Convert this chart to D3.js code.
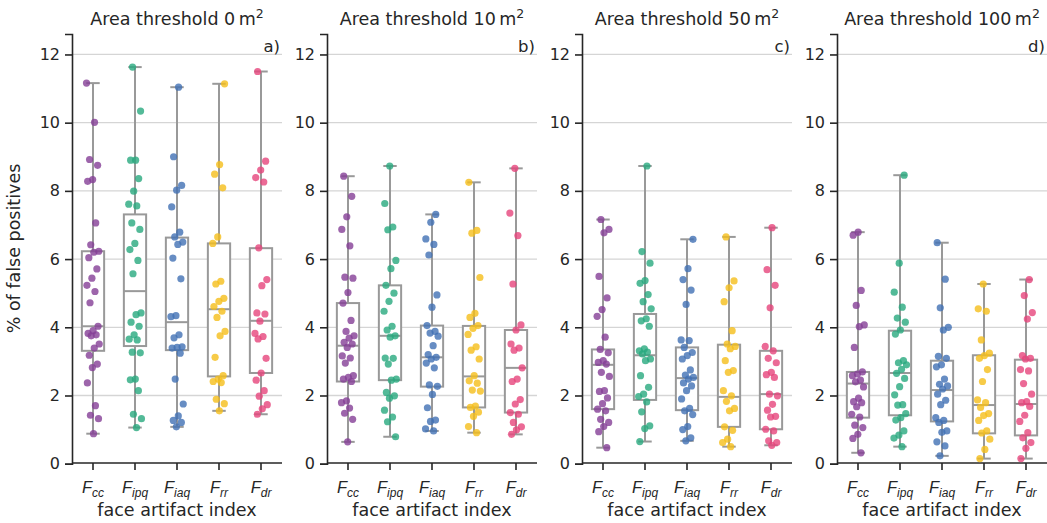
<!DOCTYPE html>
<html>
<head>
<meta charset="utf-8">
<script src="https://cdn.jsdelivr.net/npm/d3@7"></script>
<style>
  body { margin: 0; background: #fff; }
  svg { font-family: "DejaVu Sans", sans-serif; }
</style>
</head>
<body>
<div id="chart"></div>
<script>
// panels / categories
const thresholds = [0, 10, 50, 100];
const panelTags = ["a)", "b)", "c)", "d)"];
const categories = ["cc", "ipq", "iaq", "rr", "dr"];
const colors = ["#843f96", "#28a97e", "#4170b4", "#f5be1a", "#e6457c"];
const yTicks = [0, 2, 4, 6, 8, 10, 12];

// box stats per panel, per category: [whiskerLow, q1, median, q3, whiskerHigh]
const boxes0 = [[0.88, 3.31, 4.03, 6.23, 11.16], [1.06, 3.45, 5.06, 7.31, 11.63], [1.08, 3.33, 4.15, 6.63, 11.04], [1.55, 2.56, 4.53, 6.46, 11.14], [1.45, 2.66, 4.19, 6.32, 11.50]];
const boxes10 = [[0.64, 2.41, 3.46, 4.71, 8.43], [0.79, 2.45, 3.75, 5.23, 8.73], [0.96, 2.26, 3.12, 4.05, 7.31], [0.91, 1.65, 2.56, 4.04, 8.25], [0.86, 1.50, 2.81, 3.92, 8.66]];
const boxes50 = [[0.47, 1.60, 2.90, 3.35, 7.16], [0.65, 1.87, 3.18, 4.39, 8.73], [0.67, 1.57, 2.51, 3.41, 6.58], [0.50, 1.08, 1.96, 3.49, 6.65], [0.54, 1.01, 2.04, 3.31, 6.92]];
const boxes100 = [[0.32, 1.35, 2.35, 2.69, 6.79], [0.50, 1.42, 2.66, 3.90, 8.46], [0.23, 1.24, 2.16, 3.02, 6.48], [0.15, 0.89, 1.72, 3.18, 5.27], [0.15, 0.83, 1.75, 3.05, 5.40]];

// % of false positives per building, per panel, per category
const points0 = [
  [11.16, 10.01, 8.92, 8.75, 8.33, 8.28, 7.06, 6.42, 6.23, 6.20, 6.04, 5.71, 5.44, 5.23, 5.05, 4.72, 4.03, 3.90, 3.82, 3.78, 3.75, 3.51, 3.39, 3.18, 2.92, 2.82, 2.37, 1.70, 1.42, 1.32, 0.88],
  [11.63, 10.34, 8.90, 8.90, 8.36, 7.99, 7.61, 7.56, 7.06, 6.87, 6.46, 6.28, 5.96, 5.57, 4.42, 4.37, 4.15, 4.03, 3.78, 3.65, 3.63, 3.27, 3.25, 2.48, 2.46, 2.14, 1.45, 1.32, 1.06],
  [11.04, 9.00, 8.16, 8.02, 7.53, 6.79, 6.65, 6.50, 6.43, 6.03, 5.42, 4.34, 4.31, 3.78, 3.69, 3.43, 3.41, 3.39, 3.24, 2.48, 1.75, 1.40, 1.27, 1.21, 1.08],
  [11.14, 8.77, 8.49, 8.09, 6.65, 6.46, 5.35, 5.27, 4.85, 4.76, 4.61, 4.47, 4.29, 3.88, 3.75, 3.12, 2.58, 2.48, 2.41, 2.38, 1.89, 1.76, 1.55],
  [11.50, 8.87, 8.61, 8.39, 8.26, 6.33, 5.40, 5.22, 4.42, 4.39, 4.18, 3.82, 3.73, 3.66, 3.09, 2.66, 2.45, 2.14, 1.98, 1.73, 1.61, 1.45]
];
const points10 = [
  [8.43, 7.84, 7.24, 6.87, 6.39, 5.47, 5.44, 5.02, 4.71, 4.20, 3.88, 3.75, 3.68, 3.56, 3.51, 3.41, 3.16, 3.10, 2.95, 2.58, 2.53, 2.48, 2.41, 1.84, 1.79, 1.63, 1.48, 1.30, 0.64],
  [8.73, 7.63, 6.94, 6.86, 5.96, 5.72, 5.23, 5.00, 4.76, 4.47, 4.03, 3.92, 3.75, 3.71, 3.10, 3.09, 2.92, 2.48, 2.45, 2.09, 1.99, 1.92, 1.57, 1.37, 1.23, 0.79],
  [7.31, 7.08, 6.59, 6.43, 6.12, 4.95, 4.59, 4.05, 3.88, 3.83, 3.74, 3.46, 3.20, 3.12, 3.07, 2.95, 2.81, 2.31, 2.27, 2.03, 1.64, 1.28, 1.24, 1.02, 0.96],
  [8.25, 6.84, 6.76, 5.46, 4.41, 4.29, 4.05, 3.97, 3.79, 3.43, 3.33, 3.07, 2.58, 2.43, 2.36, 2.16, 2.13, 1.69, 1.65, 1.51, 1.39, 1.09, 0.91],
  [8.66, 7.35, 6.69, 5.27, 4.07, 3.92, 3.51, 3.39, 3.33, 2.81, 2.48, 2.41, 1.88, 1.75, 1.50, 1.45, 1.21, 1.08, 0.99, 0.86]
];
const points50 = [
  [7.16, 6.87, 6.77, 5.49, 4.86, 4.52, 4.32, 3.71, 3.35, 3.25, 3.02, 2.97, 2.92, 2.68, 2.56, 2.14, 2.12, 1.93, 1.76, 1.60, 1.55, 1.30, 1.21, 1.09, 0.94, 0.47],
  [8.73, 6.22, 5.88, 5.37, 5.29, 4.96, 4.75, 4.54, 4.25, 4.19, 4.03, 3.37, 3.31, 3.27, 3.22, 3.07, 3.02, 2.58, 2.24, 2.04, 1.97, 1.81, 1.52, 1.11, 1.03, 0.65],
  [6.58, 5.72, 5.40, 5.09, 4.67, 3.63, 3.61, 3.41, 3.26, 3.17, 3.07, 2.75, 2.60, 2.53, 2.48, 2.37, 2.28, 2.14, 1.90, 1.62, 1.55, 1.44, 1.09, 1.00, 0.76, 0.67],
  [6.65, 5.36, 5.16, 4.75, 3.90, 3.51, 3.44, 3.37, 3.02, 2.73, 2.68, 2.14, 1.99, 1.83, 1.62, 1.55, 1.08, 0.98, 0.72, 0.62, 0.50],
  [6.92, 5.69, 5.23, 4.57, 3.44, 3.31, 3.09, 2.96, 2.68, 2.61, 2.53, 2.04, 1.99, 1.74, 1.57, 1.39, 1.37, 1.01, 0.96, 0.67, 0.62, 0.54]
];
const points100 = [
  [6.79, 6.70, 5.08, 4.64, 4.07, 4.02, 3.41, 2.69, 2.63, 2.58, 2.45, 2.40, 2.25, 1.92, 1.82, 1.79, 1.67, 1.45, 1.37, 1.13, 1.06, 0.86, 0.74, 0.32],
  [8.46, 5.88, 5.03, 4.59, 4.27, 4.15, 3.92, 3.80, 3.02, 2.96, 2.90, 2.77, 2.65, 2.50, 2.26, 2.02, 1.73, 1.72, 1.47, 1.35, 1.28, 0.96, 0.84, 0.75, 0.50],
  [6.48, 5.41, 4.57, 4.00, 3.92, 3.15, 3.09, 2.90, 2.84, 2.48, 2.33, 2.28, 2.19, 2.04, 1.86, 1.73, 1.35, 1.27, 1.21, 0.96, 0.92, 0.64, 0.52, 0.23],
  [5.27, 4.54, 4.47, 3.63, 3.24, 3.17, 3.09, 2.76, 2.41, 1.87, 1.79, 1.65, 1.47, 1.41, 1.27, 0.96, 0.90, 0.72, 0.42, 0.15],
  [5.40, 4.93, 4.43, 4.24, 3.17, 3.09, 3.07, 2.76, 2.72, 2.35, 2.04, 1.82, 1.79, 1.68, 1.42, 1.24, 0.91, 0.76, 0.62, 0.45, 0.15]
];

const allBoxes = [boxes0, boxes10, boxes50, boxes100];
const allPoints = [points0, points10, points50, points100];

const width = 1047, height = 523;
const margin = { top: 34, bottom: 60, left: 72 };
const panelW = 210, panelGap = 45;
const plotBottom = height - margin.bottom;

const svg = d3.select("#chart").append("svg")
  .attr("width", width)
  .attr("height", height);

const y = d3.scaleLinear()
  .domain([0, 12.6])
  .range([plotBottom + 0.7, margin.top]);

const axisColor = "#262626";
const boxColor = "#999999";

thresholds.forEach((thr, p) => {
  const x0 = margin.left + p * (panelW + panelGap);
  const g = svg.append("g").attr("transform", `translate(${x0},0)`);

  const x = d3.scaleBand()
    .domain(categories)
    .range([0, panelW]);

  // grid
  g.append("g")
    .selectAll("line")
    .data(yTicks.filter(t => t > 0))
    .enter().append("line")
    .attr("x1", 0).attr("x2", panelW)
    .attr("y1", d => y(d)).attr("y2", d => y(d))
    .attr("stroke", "#d5d5d5")
    .attr("stroke-width", 1.3);

  // y axis
  const yAxis = g.append("g")
    .call(d3.axisLeft(y).tickValues(yTicks).tickSize(7).tickPadding(5));
  yAxis.select(".domain").attr("stroke", axisColor).attr("stroke-width", 1.6);
  yAxis.selectAll(".tick line").attr("stroke", axisColor).attr("stroke-width", 1.6);
  yAxis.selectAll(".tick text")
    .attr("fill", axisColor)
    .style("font-size", "16px")
    .style("font-family", "DejaVu Sans");

  // x axis
  const xAxis = g.append("g")
    .attr("transform", `translate(0,${plotBottom})`)
    .call(d3.axisBottom(x).tickSize(7).tickFormat(""));
  xAxis.select(".domain").attr("stroke", axisColor).attr("stroke-width", 1.6)
    .attr("d", `M0,0H${panelW}`);
  xAxis.selectAll(".tick line").attr("stroke", axisColor).attr("stroke-width", 1.6);

  // tick labels with italic subscripts
  const lab = xAxis.selectAll(".tick")
    .append("text")
    .attr("y", 30)
    .attr("text-anchor", "middle")
    .attr("fill", axisColor)
    .style("font-size", "16.5px")
    .style("font-style", "italic");
  lab.append("tspan").text("F");
  lab.append("tspan")
    .attr("dy", 4)
    .style("font-size", "12px")
    .text(d => d);

  // x label
  g.append("text")
    .attr("x", panelW / 2)
    .attr("y", 516)
    .attr("text-anchor", "middle")
    .attr("fill", axisColor)
    .style("font-size", "17.5px")
    .text("face artifact index");

  // title
  const title = g.append("text")
    .attr("x", panelW / 2)
    .attr("y", 25)
    .attr("text-anchor", "middle")
    .attr("fill", axisColor)
    .style("font-size", "17.5px");
  title.append("tspan").text(`Area threshold ${thr}\u2009m`);
  title.append("tspan")
    .attr("dy", -7)
    .style("font-size", "12.5px")
    .text("2");

  // panel tag
  g.append("text")
    .attr("x", panelW - 2)
    .attr("y", 52)
    .attr("text-anchor", "end")
    .attr("fill", axisColor)
    .style("font-size", "16.5px")
    .text(panelTags[p]);

  // boxes
  const boxW = x.bandwidth() * 0.53;
  const capW = x.bandwidth() * 0.32;
  const bx = g.append("g")
    .selectAll("g")
    .data(allBoxes[p])
    .enter().append("g")
    .attr("transform", (d, i) => `translate(${x(categories[i]) + x.bandwidth() / 2},0)`);

  bx.append("line")
    .attr("x1", 0).attr("x2", 0)
    .attr("y1", d => y(d[0])).attr("y2", d => y(d[4]))
    .attr("stroke", boxColor).attr("stroke-width", 2);
  bx.append("rect")
    .attr("x", -boxW / 2)
    .attr("width", boxW)
    .attr("y", d => y(d[3]))
    .attr("height", d => y(d[1]) - y(d[3]))
    .attr("fill", "#fff")
    .attr("stroke", boxColor).attr("stroke-width", 2);
  bx.append("line")
    .attr("x1", -boxW / 2).attr("x2", boxW / 2)
    .attr("y1", d => y(d[2])).attr("y2", d => y(d[2]))
    .attr("stroke", boxColor).attr("stroke-width", 2);
  bx.selectAll(".cap")
    .data(d => [d[0], d[4]])
    .enter().append("line")
    .attr("class", "cap")
    .attr("x1", -capW / 2).attr("x2", capW / 2)
    .attr("y1", d => y(d)).attr("y2", d => y(d))
    .attr("stroke", boxColor).attr("stroke-width", 2);

  // strip points
  allPoints[p].forEach((vals, c) => {
    const cx = x(categories[c]) + x.bandwidth() / 2;
    g.append("g")
      .selectAll("circle")
      .data(vals)
      .enter().append("circle")
      .attr("cx", (d, i) => cx + (((i * 0.618 + c * 0.31 + p * 0.17) % 1) - 0.5) * 13)
      .attr("cy", d => y(d))
      .attr("r", 3.6)
      .attr("fill", colors[c])
      .attr("fill-opacity", 0.8);
  });

  if (p === 0) {
    g.append("text")
      .attr("transform", `translate(-52,${(margin.top + plotBottom) / 2}) rotate(-90)`)
      .attr("text-anchor", "middle")
      .attr("fill", axisColor)
      .style("font-size", "17.5px")
      .text("% of false positives");
  }
});
</script>
</body>
</html>
